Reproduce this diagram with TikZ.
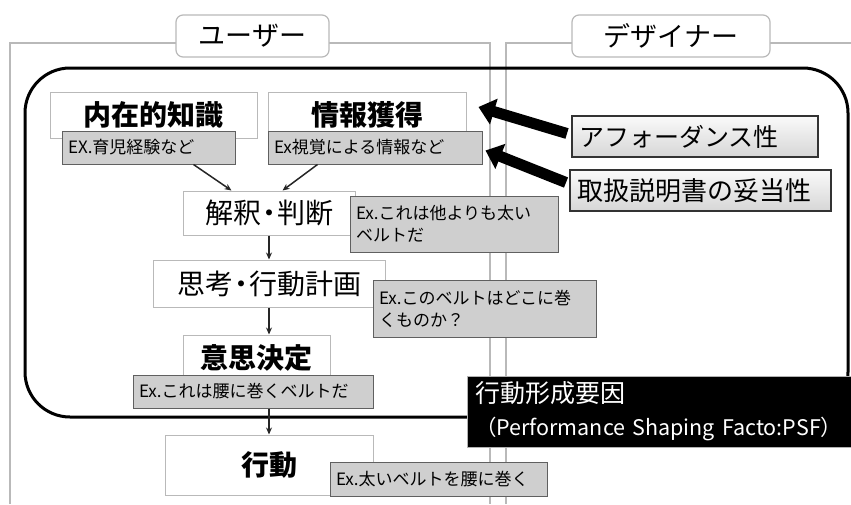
\documentclass[tikz,border=0pt]{standalone}
\usepackage{fontspec}
\setmainfont{Noto Sans CJK JP}
\usetikzlibrary{arrows.meta,calc}
\begin{document}
\begin{tikzpicture}[x=1pt,y=-1pt,
  frameline/.style={draw=gray!55,line width=1.4pt},
  lanelabel/.style={draw=gray!55,line width=1.2pt,fill=white,rounded corners=7pt,inner sep=0pt,font=\fontsize{27}{30}\selectfont},
  mainbox/.style={draw=gray!55,line width=1pt,fill=white,inner sep=0pt,font=\fontsize{28}{32}\selectfont\bfseries},
  exbox/.style={draw=gray!75!black,line width=1pt,fill=gray!38,inner xsep=6pt,inner ysep=0pt,align=left,font=\fontsize{17}{22}\selectfont},
  factorbox/.style={draw=black!80,line width=2pt,top color=gray!4,bottom color=gray!32,inner xsep=7pt,inner ysep=0pt,align=left},
  flow/.style={draw=black!85,line width=1.5pt,-{Stealth[length=7pt,width=6pt]}},
  bigarrow/.style={draw=black,line width=11pt,-{Triangle[length=16pt,width=26pt]}}
]
\useasboundingbox (0,0) rectangle (851,504);
% lanes
\draw[frameline] (10,504) -- (10,43) -- (490,43) -- (490,504);
\draw[frameline] (506,504) -- (506,43) -- (851,43);
\node[lanelabel,minimum width=153pt,minimum height=42pt] (user) at (252.5,36) {ユーザー};
\node[lanelabel,minimum width=198pt,minimum height=42pt] (designer) at (671,36) {デザイナー};
% PSF area
\draw[line width=3pt,rounded corners=45pt] (25,68) rectangle (848,417);
% main boxes
\node[mainbox,minimum width=207pt,minimum height=46pt] (know) at (153.5,115) {内在的知識};
\node[mainbox,minimum width=198pt,minimum height=46pt] (info) at (367,115) {情報獲得};
\node[exbox,text width=161pt,minimum height=33pt] (exknow) at (148.5,147.5) {EX.育児経験など};
\node[exbox,text width=202pt,minimum height=33pt] (exinfo) at (375,147.5) {Ex視覚による情報など};
\node[mainbox,minimum width=172pt,minimum height=44pt] (interp) at (269,213) {\mdseries 解釈\kern-6pt・\kern-6pt判断};
\node[exbox,text width=196pt,minimum height=56pt] (exinterp) at (454,224) {Ex.これは他よりも太い\\ベルトだ};
\node[mainbox,minimum width=232pt,minimum height=47pt] (think) at (269,283.5) {\mdseries 思考\kern-6pt・\kern-6pt行動計画};
\node[exbox,text width=211pt,minimum height=57pt] (exthink) at (484.5,308.5) {Ex.このベルトはどこに巻\\くものか？};
\node[mainbox,minimum width=147pt,minimum height=46pt] (decide) at (256.5,358) {意思決定};
\node[exbox,text width=228pt,minimum height=33pt] (exdecide) at (253,391.5) {Ex.これは腰に巻くベルトだ};
\node[mainbox,minimum width=208pt,minimum height=60pt] (act) at (269,465) {行動};
\node[exbox,text width=205pt,minimum height=34pt] (exact) at (438.5,479) {Ex.太いベルトを腰に巻く};
% flow arrows
\draw[flow] ($(exknow.south east)+(-42,0)$) -- ($(interp.north west)+(49,0)$);
\draw[flow] ($(exinfo.south west)+(50,0)$) -- ($(interp.north east)+(-73,0)$);
\draw[flow] (interp.south) -- (think.north);
\draw[flow] (think.south) -- (think.south |- decide.north);
\draw[flow] (think.south |- exdecide.south) -- (think.south |- act.north);
% factors
\node[factorbox,text width=232pt,minimum height=41pt,font=\fontsize{25}{28}\selectfont] (aff) at (695,136.5) {アフォーダンス性};
\node[factorbox,text width=247pt,minimum height=41pt,font=\fontsize{26}{28}\selectfont] (manual) at (700.5,190.5) {取扱説明書の妥当性};
\draw[bigarrow] ($(aff.west)+(-4,-3)$) -- ($(info.east)+(12,-8)$);
\draw[bigarrow] ($(manual.west)+(-3,-8)$) -- ($(exinfo.east)+(3,3)$);
% PSF label
\node[fill=black,draw=gray!60,line width=1pt,text=white,minimum width=384pt,minimum height=71pt,inner xsep=8pt,align=left,text width=368pt,font=\fontsize{21.5}{33}\selectfont] (psf) at (659,411.5) {{\fontsize{25}{33}\selectfont 行動形成要因}\\\mbox{（Performance Shaping Facto:PSF）}};
\end{tikzpicture}
\end{document}
